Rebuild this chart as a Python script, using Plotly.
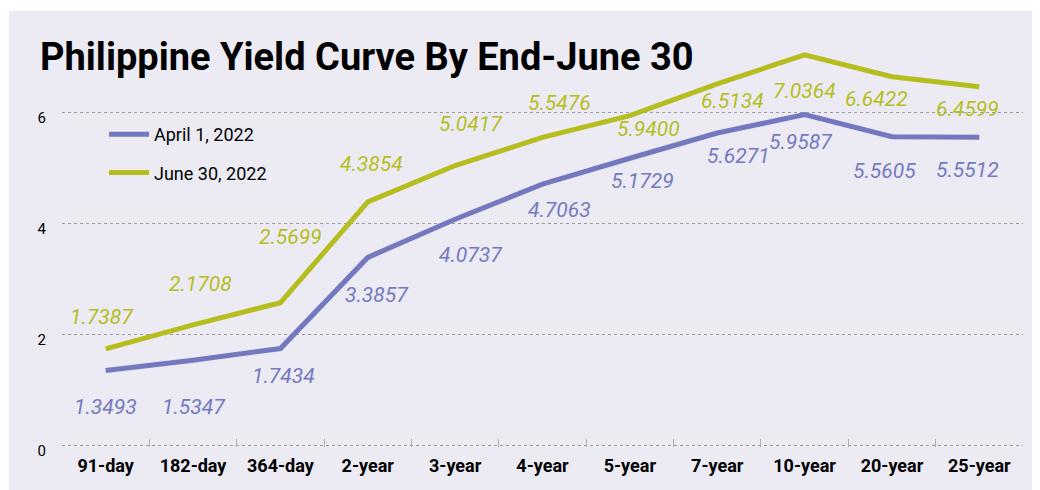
import plotly.graph_objects as go

categories = ["91-day", "182-day", "364-day", "2-year", "3-year", "4-year",
              "5-year", "7-year", "10-year", "20-year", "25-year"]
april_2022 = [1.3493, 1.5347, 1.7434, 3.3857, 4.0737, 4.7063,
              5.1729, 5.6271, 5.9587, 5.5605, 5.5512]
june_2022 = [1.7387, 2.1708, 2.5699, 4.3854, 5.0417, 5.5476,
             5.9400, 6.5134, 7.0364, 6.6422, 6.4599]
series_names = ["April 1, 2022", "June 30, 2022"]
y_ticks = [0, 2, 4, 6]

# label offsets in pixels (dx, dy down-positive) - purely styling
april_offsets = [(0, 37), (0, 47), (3, 27), (9, 38), (15, 36), (17, 26),
                 (13, 23), (21, 23), (-4, 27), (-7, 34), (-12, 33)]
june_offsets = [(-4, -32), (7, -41), (10, -66), (4, -38), (15, -42), (17, -34),
                (19, 13), (15, 17), (0, 36), (-15, 22), (-12, 22)]

APRIL_C = "#7479BF"
JUNE_C = "#B5BE1E"
BG = "#ECEBF4"
FONT = "Roboto, Liberation Sans Narrow, sans-serif"

fig = go.Figure()
fig.add_trace(go.Scatter(x=categories, y=april_2022, mode="lines", name=series_names[0],
                         legendgroup="a", line=dict(color=APRIL_C, width=5)))
fig.add_trace(go.Scatter(x=categories, y=june_2022, mode="lines", name=series_names[1],
                         legendgroup="j", line=dict(color=JUNE_C, width=5)))

annotations = []
for vals, offs, col in ((april_2022, april_offsets, APRIL_C), (june_2022, june_offsets, JUNE_C)):
    for c, v, (dx, dy) in zip(categories, vals, offs):
        annotations.append(dict(x=c, y=v, xref="x", yref="y", text=f"{v:.4f}",
                                showarrow=False, xshift=dx, yshift=-dy,
                                font=dict(family=FONT, size=21, color=col, style="italic")))

# page has an 8px body margin: figure is drawn at (8, 8)
W, H = 1032, 482
L, R, T, B = 54, 17, 32, 43
pw, ph = W - L - R, H - T - B
PX_PER_UNIT = 55.5
y_lo = -0.03

# white strips on the top and left of the lavender panel
shapes = [
    dict(type="rect", xref="paper", yref="paper", layer="below",
         x0=-L / pw - 0.05, x1=(1 - L) / pw, y0=-(B + 10) / ph, y1=(H - T + 10) / ph,
         fillcolor="white", line=dict(width=0)),
    dict(type="rect", xref="paper", yref="paper", layer="below",
         x0=-L / pw - 0.05, x1=1.1, y0=(H - B - 3) / ph, y1=(H - B + 10) / ph,
         fillcolor="white", line=dict(width=0)),
]

fig.update_layout(
    width=W, height=H,
    margin=dict(l=L, r=R, t=T, b=B, autoexpand=False),
    paper_bgcolor=BG, plot_bgcolor=BG,
    title=dict(text="<b>Philippine Yield Curve By End-June 30</b>",
               x=32 / W, xanchor="left", y=1 - 49 / H, yanchor="middle",
               font=dict(family=FONT, size=38, color="black")),
    showlegend=True,
    legend=dict(x=(96 - L) / pw, y=(H - B - 108) / ph, xanchor="left", yanchor="top",
                bgcolor="rgba(0,0,0,0)", font=dict(family=FONT, size=18, color="black"),
                tracegroupgap=12, itemwidth=40),
    annotations=annotations,
    shapes=shapes,
    xaxis=dict(type="category", categoryorder="array", categoryarray=categories,
               tickson="boundaries", ticks="inside", ticklen=8, tickcolor="#b0b0b0",
               tickwidth=1, showgrid=False, showline=False, zeroline=False,
               tickangle=0, automargin=False,
               tickfont=dict(family=FONT, size=18, color="black", weight="bold"),
               ticklabelstandoff=6, range=[-0.5, 10.5]),
    yaxis=dict(range=[y_lo, y_lo + ph / PX_PER_UNIT], tickvals=y_ticks, showgrid=True,
               gridcolor="#9a9a9a", griddash="dot", gridwidth=1, zeroline=False,
               showline=False, ticks="", ticklabelstandoff=15, ticklabelshift=5,
               automargin=False,
               tickfont=dict(family=FONT, size=15, color="black")),
)

fig.write_html("out.html")
